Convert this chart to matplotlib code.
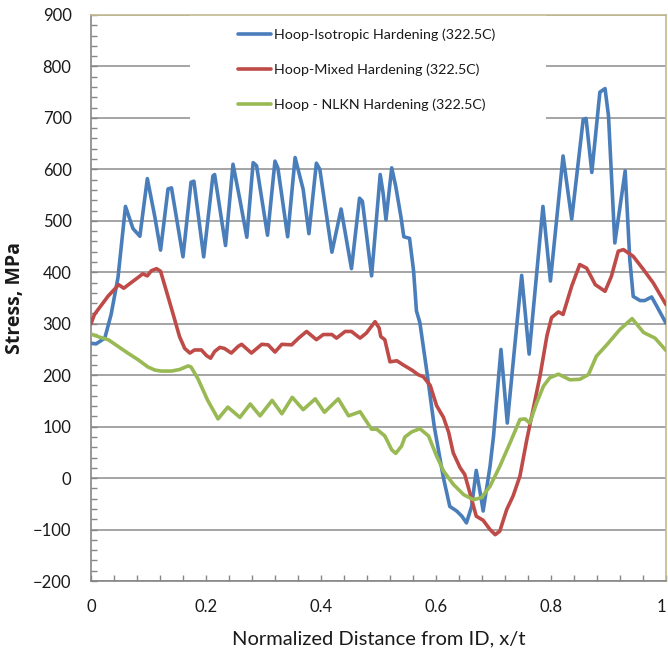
import matplotlib
matplotlib.use("Agg")
import matplotlib.pyplot as plt
from matplotlib.patches import Rectangle
from matplotlib.ticker import MultipleLocator

plt.rcParams["font.family"] = ["Lato", "DejaVu Sans"]

# Hoop stress through the wall, three hardening models at 322.5C
iso_x = [0.000, 0.009, 0.024, 0.035, 0.047, 0.060, 0.073, 0.085, 0.098, 0.111,
         0.121, 0.134, 0.140, 0.160, 0.174, 0.179, 0.196, 0.212, 0.215, 0.234,
         0.247, 0.259, 0.271, 0.282, 0.288, 0.307, 0.320, 0.325, 0.342, 0.355,
         0.369, 0.379, 0.392, 0.398, 0.419, 0.435, 0.453, 0.467, 0.472, 0.488,
         0.503, 0.508, 0.513, 0.523, 0.530, 0.539, 0.544, 0.554, 0.561, 0.566,
         0.572, 0.585, 0.597, 0.613, 0.624, 0.636, 0.645, 0.653, 0.662, 0.670,
         0.677, 0.682, 0.694, 0.700, 0.713, 0.724, 0.737, 0.749, 0.762, 0.786,
         0.799, 0.821, 0.836, 0.856, 0.861, 0.871, 0.885, 0.894, 0.900, 0.911,
         0.929, 0.937, 0.943, 0.955, 0.963, 0.975, 0.984, 1.000]
iso_y = [262, 261, 272, 318, 390, 528, 485, 470, 582, 508,
         443, 562, 564, 430, 575, 577, 430, 587, 590, 452,
         610, 541, 468, 613, 607, 472, 616, 603, 469, 623,
         561, 475, 612, 600, 439, 523, 407, 544, 538, 393,
         590, 554, 502, 603, 567, 508, 469, 466, 403, 325,
         302, 200, 100, 0, -55, -64, -74, -87, -55, 15,
         -29, -64, 23, 81, 250, 107, 257, 394, 241, 528,
         383, 626, 503, 697, 699, 594, 750, 757, 704, 457,
         597, 425, 353, 345, 345, 352, 334, 301]

mixed_x = [0.000, 0.006, 0.018, 0.030, 0.041, 0.048, 0.057, 0.070, 0.082, 0.090,
           0.098, 0.105, 0.114, 0.121, 0.131, 0.143, 0.154, 0.163, 0.172, 0.180,
           0.192, 0.201, 0.208, 0.215, 0.224, 0.232, 0.244, 0.256, 0.262, 0.279,
           0.297, 0.308, 0.320, 0.332, 0.349, 0.361, 0.375, 0.392, 0.404, 0.419,
           0.427, 0.442, 0.453, 0.468, 0.479, 0.494, 0.501, 0.504, 0.511, 0.520,
           0.532, 0.543, 0.558, 0.569, 0.578, 0.590, 0.601, 0.613, 0.622, 0.630,
           0.642, 0.650, 0.659, 0.670, 0.682, 0.694, 0.703, 0.711, 0.723, 0.734,
           0.746, 0.758, 0.769, 0.781, 0.793, 0.801, 0.813, 0.821, 0.836, 0.850,
           0.862, 0.877, 0.894, 0.905, 0.917, 0.926, 0.943, 0.961, 0.978, 1.000]
mixed_y = [300, 318, 336, 354, 367, 376, 369, 380, 390, 397,
           393, 403, 407, 402, 364, 318, 275, 252, 243, 249,
           249, 238, 233, 246, 254, 252, 243, 256, 260, 243,
           260, 259, 245, 260, 259, 272, 285, 269, 279, 279,
           272, 285, 285, 272, 282, 304, 292, 275, 269, 226,
           228, 220, 210, 201, 197, 180, 141, 118, 89, 49,
           20, 7, -29, -74, -82, -100, -110, -103, -61, -35,
           4, 75, 134, 199, 277, 312, 323, 318, 373, 415,
           408, 376, 363, 392, 441, 444, 431, 405, 379, 337]

nlkn_x = [0.000, 0.012, 0.030, 0.047, 0.064, 0.082, 0.099, 0.111, 0.122, 0.140,
          0.154, 0.169, 0.174, 0.186, 0.203, 0.221, 0.238, 0.259, 0.277, 0.294,
          0.315, 0.332, 0.350, 0.369, 0.390, 0.406, 0.430, 0.448, 0.468, 0.488,
          0.497, 0.511, 0.523, 0.530, 0.540, 0.546, 0.558, 0.572, 0.587, 0.601,
          0.613, 0.630, 0.648, 0.665, 0.679, 0.694, 0.711, 0.729, 0.746, 0.755,
          0.763, 0.775, 0.787, 0.798, 0.813, 0.833, 0.850, 0.865, 0.879, 0.897,
          0.920, 0.941, 0.961, 0.981, 1.000]
nlkn_y = [280, 275, 269, 256, 243, 230, 216, 210, 208, 208,
          211, 218, 216, 193, 151, 115, 138, 118, 144, 121,
          151, 125, 157, 133, 154, 128, 154, 121, 129, 95,
          95, 82, 55, 48, 62, 80, 90, 96, 82, 43,
          14, -12, -32, -42, -38, -16, 23, 69, 114, 115,
          107, 146, 179, 195, 202, 191, 192, 201, 237, 259,
          289, 310, 283, 272, 248]

series_labels = ["Hoop-Isotropic Hardening (322.5C)",
                 "Hoop-Mixed Hardening (322.5C)",
                 "Hoop - NLKN Hardening (322.5C)"]
series_colors = ["#4A7EBB", "#BE4B48", "#98B954"]

x_ticks = [0, 0.2, 0.4, 0.6, 0.8, 1]
x_tick_labels = ["0", "0.2", "0.4", "0.6", "0.8", "1"]
y_ticks = list(range(-200, 1000, 100))

fig = plt.figure(figsize=(6.68, 6.66), dpi=100)
ax = fig.add_axes([0.1362, 0.1276, 0.8608, 0.8499])

for xs, ys, lab, col in zip([iso_x, mixed_x, nlkn_x], [iso_y, mixed_y, nlkn_y],
                            series_labels, series_colors):
    ax.plot(xs, ys, color=col, lw=2.6, label=lab, zorder=3,
            solid_joinstyle="round", solid_capstyle="round")

ax.set_xlim(0, 1)
ax.set_ylim(-200, 900)
ax.set_xticks(x_ticks)
ax.set_xticklabels(x_tick_labels)
ax.set_yticks(y_ticks)
ax.xaxis.set_minor_locator(MultipleLocator(0.04))
ax.yaxis.set_minor_locator(MultipleLocator(20))
ax.tick_params(axis="both", which="both", direction="in", colors="#868686",
               labelcolor="#1a1a1a", labelsize=12)
ax.tick_params(axis="both", which="major", length=4, width=1)
ax.tick_params(axis="both", which="minor", length=4, width=1)
ax.tick_params(axis="x", pad=13)
ax.tick_params(axis="y", pad=14)
# keep the last x label inside the canvas
ax.get_xticklabels()[-1].set_horizontalalignment("right")

ax.grid(axis="y", which="major", color="#8c8c8c", lw=1.1, zorder=1)
ax.set_axisbelow(True)

for side in ("left", "bottom"):
    ax.spines[side].set_color("#868686")
    ax.spines[side].set_linewidth(1.2)
for side in ("top", "right"):
    ax.spines[side].set_color("#C4B98F")
    ax.spines[side].set_linewidth(1.2)

# white legend area over the grid
ax.add_patch(Rectangle((0.172, 660), 0.619, 240, transform=ax.transData,
                       facecolor="white", edgecolor="none", zorder=2))

leg = ax.legend(loc="upper left", bbox_to_anchor=(0.2557, 0.976), frameon=False,
                borderpad=0, borderaxespad=0, handlelength=2.3, handletextpad=0.25,
                labelspacing=1.55, fontsize=10.3)
for t in leg.get_texts():
    t.set_color("#1a1a1a")

ax.set_xlabel("Normalized Distance from ID, x/t", fontsize=14.5, color="#1a1a1a",
              labelpad=11)
ax.set_ylabel("Stress, MPa", fontsize=14, fontweight="bold", color="#1a1a1a",
              family=["Open Sans", "DejaVu Sans"], labelpad=6)

fig.savefig("out.png", dpi=100)
